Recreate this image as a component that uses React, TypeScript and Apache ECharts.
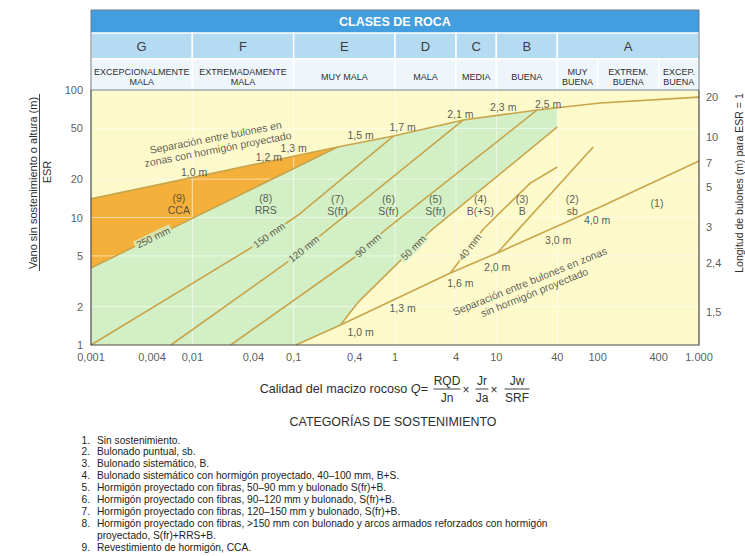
import React, { useEffect, useRef } from "react";
import * as echarts from "echarts";

const FONT = "'Liberation Sans', Arial, Helvetica, sans-serif";
const INK = "#2e2e2e";
const LINE = "#c8a54b";
const PLOT_BG = "#fcf9cb";
const GREEN = "#d3efc5";
const ORANGE = "#f5b03c";

// ---- axes -----------------------------------------------------------------
const qTicks = [0.001, 0.004, 0.01, 0.04, 0.1, 0.4, 1, 4, 10, 40, 100, 400, 1000];
const qTickLabels = ["0,001", "0,004", "0,01", "0,04", "0,1", "0,4", "1", "4", "10", "40", "100", "400", "1.000"];
const spanTicks = [1, 2, 5, 10, 20, 50, 100];
const spanTickLabels = ["1", "2", "5", "10", "20", "50", "100"];
// bolt length (m) for ESR = 1, written at the span/ESR it belongs to
const boltLengthLabels = ["20", "10", "7", "5", "3", "2,4", "1,5"];
const boltLengthSpans = [88, 42.8, 26.8, 17.4, 8.4, 4.4, 1.81];

// ---- rock mass classes (header) ---------------------------------------------
const rockClassLetters = ["G", "F", "E", "D", "C", "B", "A"];
const rockClassBounds = [0.001, 0.01, 0.1, 1, 4, 10, 40, 1000];
const rockQualityNames = [
  "EXCEPCIONALMENTE\nMALA",
  "EXTREMADAMENTE\nMALA",
  "MUY MALA",
  "MALA",
  "MEDIA",
  "BUENA",
  "MUY\nBUENA",
  "EXTREM.\nBUENA",
  "EXCEP.\nBUENA",
];
const rockQualityBounds = [0.001, 0.01, 0.1, 1, 4, 10, 40, 100, 400, 1000];

// ---- boundary lines, points as [Q, span/ESR] -----------------------------------
const boltSpacingShotcrete = [
  [0.001, 14], [0.271, 35.7], [0.97, 43.6], [4.73, 58.2], [25.3, 69.7], [40, 72.6], [106, 79.1], [1000, 88],
];
const line250 = [[0.001, 4.02], [0.271, 35.7]];
const line150 = [[0.001, 1], [0.0377, 5.77], [0.117, 10.8], [0.97, 43.6]];
const line120 = [[0.00614, 1], [0.0873, 4.48], [0.172, 6.91], [4.73, 58.2]];
const line90 = [[0.0239, 1], [0.39, 4.81], [0.843, 8.27], [25.3, 69.7]];
const line50 = [[0.105, 1], [0.29, 1.435], [0.436, 2.18], [2.24, 7.84], [40, 51.3]];
const line40 = [[3.52, 3.67], [7.45, 8.12], [21.6, 18.6], [40, 24.9]];
const lineSpotBolting = [[10.2, 5.27], [90.4, 35.7]];
const boltSpacingNoShotcrete = [[0.29, 1.435], [3.52, 3.67], [10.2, 5.27], [106, 12.1], [1000, 27.7]];

// bolt spacing values written along the two spacing curves
const spacingShotcreteText = ["1,0 m", "1,2 m", "1,3 m", "1,5 m", "1,7 m", "2,1 m", "2,3 m", "2,5 m"];
const spacingShotcreteAt = [
  [0.0104, 22.9], [0.0568, 29.8], [0.1, 35.1], [0.457, 44.6], [1.19, 51.3], [4.42, 64.8], [11.7, 73.6], [32.5, 77.6],
];
const spacingBareText = ["1,0 m", "1,3 m", "1,6 m", "2,0 m", "3,0 m", "4,0 m"];
const spacingBareAt = [[0.457, 1.265], [1.19, 1.95], [4.42, 3.06], [10.2, 4.09], [40.8, 6.66], [98.9, 9.55]];

// shotcrete thickness written on each class boundary
const thicknessText = ["250 mm", "150 mm", "120 mm", "90 mm", "50 mm", "40 mm"];
const thicknessLines = [line250, line150, line120, line90, line50, line40];
const thicknessQ = [0.0041, 0.057, 0.126, 0.54, 1.52, 5.5];
const thicknessAngle = [26, 35, 39, 41, 45, 52];

// support categories
const categoryNumbers = ["(9)", "(8)", "(7)", "(6)", "(5)", "(4)", "(3)", "(2)", "(1)"];
const categoryCodes = ["CCA", "RRS", "S(fr)", "S(fr)", "S(fr)", "B(+S)", "B", "sb", ""];
const categoryAt = [
  [0.00736, 12.8], [0.053, 12.8], [0.271, 12.5], [0.863, 12.5], [2.51, 12.5], [6.95, 12.5], [18, 12.5], [56.1, 12.5], [385, 13],
];

const supportCategories = [
  "Sin sostenimiento.",
  "Bulonado puntual, sb.",
  "Bulonado sistemático, B.",
  "Bulonado sistemático con hormigón proyectado, 40–100 mm, B+S.",
  "Hormigón proyectado con fibras, 50–90 mm y bulonado S(fr)+B.",
  "Hormigón proyectado con fibras, 90–120 mm y bulonado, S(fr)+B.",
  "Hormigón proyectado con fibras, 120–150 mm y bulonado, S(fr)+B.",
  "Hormigón proyectado con fibras, >150 mm con bulonado y arcos armados reforzados con hormigón\nproyectado, S(fr)+RRS+B.",
  "Revestimiento de hormigón, CCA.",
];

// faint guide lines inside the plot
const guideQ = [0.01, 0.1, 1, 4, 10, 40];
const guideSpan = [2, 5, 10, 20, 50];

// ---- derived shapes -----------------------------------------------------------
const ccaZone = [line250[0], boltSpacingShotcrete[0], boltSpacingShotcrete[1]];
const shotcreteZone = [
  [0.001, 1],
  ...line250,
  ...boltSpacingShotcrete.slice(2, 6),
  ...line50.slice().reverse(),
];
const zones = [shotcreteZone, ccaZone];
const zoneColors = [GREEN, ORANGE];

function spanOnLine(line: number[][], q: number): number {
  const lq = Math.log10(q);
  for (let i = 0; i < line.length - 1; i++) {
    const a = Math.log10(line[i][0]);
    const b = Math.log10(line[i + 1][0]);
    if (lq >= a && lq <= b) {
      const t = (lq - a) / (b - a);
      const s0 = Math.log10(line[i][1]);
      const s1 = Math.log10(line[i + 1][1]);
      return Math.pow(10, s0 + t * (s1 - s0));
    }
  }
  return line[line.length - 1][1];
}

// header rows in header-grid units (0 = top)
const ROWS = [[0, 23], [23, 49], [49, 80]];
const ROW_FILL = ["#439ee0", "#b5dbf3", "#eef6fc"];

type Cell = { q0: number; q1: number; row: number; text: string };
const headerCells: Cell[] = [
  { q0: rockClassBounds[0], q1: rockClassBounds[rockClassBounds.length - 1], row: 0, text: "CLASES DE ROCA" },
  ...rockClassLetters.map((t, i) => ({ q0: rockClassBounds[i], q1: rockClassBounds[i + 1], row: 1, text: t })),
  ...rockQualityNames.map((t, i) => ({ q0: rockQualityBounds[i], q1: rockQualityBounds[i + 1], row: 2, text: t })),
];

function curve(data: number[][]) {
  return {
    type: "line",
    xAxisIndex: 0,
    yAxisIndex: 0,
    data,
    symbol: "none",
    showSymbol: false,
    silent: true,
    z: 3,
    lineStyle: { color: LINE, width: 1.6 },
  };
}

function labels(items: { name: string; value: number[]; label?: any }[], base: any, z = 5) {
  return {
    type: "scatter",
    xAxisIndex: 0,
    yAxisIndex: 0,
    symbolSize: 0,
    silent: true,
    clip: false,
    z,
    data: items,
    label: { show: true, formatter: "{b}", fontFamily: FONT, color: INK, ...base },
  };
}

function buildOption(): any {
  const series: any[] = [];

  // coloured support zones
  series.push({
    type: "custom",
    xAxisIndex: 0,
    yAxisIndex: 0,
    silent: true,
    z: 1,
    data: zones.map((z) => z[0]),
    renderItem: (params: any, api: any) => ({
      type: "polygon",
      shape: { points: zones[params.dataIndex].map((p) => api.coord(p)) },
      style: { fill: zoneColors[params.dataIndex] },
    }),
  });

  // faint white guides
  series.push({
    type: "custom",
    xAxisIndex: 0,
    yAxisIndex: 0,
    silent: true,
    z: 2,
    data: [[1, 10]],
    renderItem: (_p: any, api: any) => {
      const children: any[] = [];
      guideQ.forEach((q) => {
        const a = api.coord([q, 1]);
        const b = api.coord([q, 100]);
        children.push({ type: "line", shape: { x1: a[0], y1: a[1], x2: b[0], y2: b[1] }, style: { stroke: "rgba(255,255,255,0.65)", lineWidth: 1 } });
      });
      guideSpan.forEach((s) => {
        const a = api.coord([0.001, s]);
        const b = api.coord([1000, s]);
        children.push({ type: "line", shape: { x1: a[0], y1: a[1], x2: b[0], y2: b[1] }, style: { stroke: "rgba(255,255,255,0.55)", lineWidth: 1 } });
      });
      return { type: "group", children };
    },
  });

  // boundary curves
  [boltSpacingShotcrete, line250, line150, line120, line90, line50, line40, lineSpotBolting, boltSpacingNoShotcrete].forEach((l) =>
    series.push(curve(l))
  );

  // plot frame
  series.push({
    type: "custom",
    xAxisIndex: 0,
    yAxisIndex: 0,
    silent: true,
    z: 4,
    data: [[1, 10]],
    renderItem: (_p: any, api: any) => {
      const bl = api.coord([0.001, 1]);
      const tl = api.coord([0.001, 100]);
      const br = api.coord([1000, 1]);
      const tr = api.coord([1000, 100]);
      return {
        type: "polyline",
        shape: { points: [tl, bl, br, tr] },
        style: { stroke: "#4a4a4a", lineWidth: 1.2, fill: "none" },
      };
    },
  });

  // header (rock classes)
  series.push({
    type: "custom",
    xAxisIndex: 1,
    yAxisIndex: 1,
    silent: true,
    z: 2,
    data: [...headerCells.map((c) => [c.q0, ROWS[c.row][0]]), [0.001, 0]],
    renderItem: (params: any, api: any) => {
      const i = params.dataIndex;
      if (i === headerCells.length) {
        const a = api.coord([0.001, 0]);
        const b = api.coord([1000, 80]);
        return {
          type: "rect",
          shape: { x: a[0], y: a[1], width: b[0] - a[0], height: b[1] - a[1] },
          style: { fill: "none", stroke: "#6f7b85", lineWidth: 1 },
        };
      }
      const c = headerCells[i];
      const a = api.coord([c.q0, ROWS[c.row][0]]);
      const b = api.coord([c.q1, ROWS[c.row][1]]);
      const textStyle: any =
        c.row === 0
          ? { fill: "#ffffff", fontSize: 12.5, fontWeight: "bold" }
          : c.row === 1
          ? { fill: "#3c3c3c", fontSize: 13 }
          : { fill: "#2e2e2e", fontSize: 9, lineHeight: 10 };
      const cx = (a[0] + b[0]) / 2;
      const cy = (a[1] + b[1]) / 2 + (c.row === 2 ? 2 : 0);
      return {
        type: "group",
        children: [
          {
            type: "rect",
            shape: { x: a[0], y: a[1], width: b[0] - a[0], height: b[1] - a[1] },
            style: { fill: ROW_FILL[c.row], stroke: "#ffffff", lineWidth: c.row === 0 ? 0 : 1.5 },
          },
          {
            type: "text",
            style: {
              text: c.text,
              x: cx,
              y: cy,
              align: "center",
              verticalAlign: "middle",
              fontFamily: FONT,
              ...textStyle,
            },
          },
        ],
      };
    },
  });

  // tick labels
  series.push(
    labels(
      qTicks.map((q, i) => ({ name: qTickLabels[i], value: [q, 1] })),
      { position: "bottom", distance: 6, fontSize: 11 }
    )
  );
  series.push(
    labels(
      spanTicks.map((s, i) => ({ name: spanTickLabels[i], value: [0.001, s] })),
      { position: "left", distance: 8, fontSize: 11, align: "right" }
    )
  );
  series.push(
    labels(
      boltLengthSpans.map((s, i) => ({ name: boltLengthLabels[i], value: [1000, s] })),
      { position: "right", distance: 7, fontSize: 11, align: "left" }
    )
  );

  // bolt spacing values
  series.push(
    labels(
      spacingShotcreteAt.map((p, i) => ({ name: spacingShotcreteText[i], value: p })),
      { position: "inside", fontSize: 10.5 }
    )
  );
  series.push(
    labels(
      spacingBareAt.map((p, i) => ({ name: spacingBareText[i], value: p })),
      { position: "inside", fontSize: 10.5 }
    )
  );

  // thickness labels sit on their own boundary line
  series.push(
    labels(
      thicknessText.map((t, i) => ({
        name: t,
        value: [thicknessQ[i], spanOnLine(thicknessLines[i], thicknessQ[i])],
        label: {
          rotate: thicknessAngle[i],
          backgroundColor: i === thicknessText.length - 1 ? PLOT_BG : GREEN,
        },
      })),
      { position: "inside", fontSize: 10, color: "#333", padding: [0, 2] },
      6
    )
  );

  // support category tags
  series.push(
    labels(
      categoryAt.map((p, i) => ({
        name: categoryCodes[i] ? categoryNumbers[i] + "\n" + categoryCodes[i] : categoryNumbers[i],
        value: p,
      })),
      { position: "inside", fontSize: 10.5, lineHeight: 12, color: "#333" }
    )
  );

  // captions along the spacing curves
  series.push(
    labels(
      [
        { name: "Separación entre bulones en\nzonas con hormigón proyectado", value: [0.0174, 38.4], label: { rotate: 11 } },
        { name: "Separación entre bulones en zonas\nsin hormigón proyectado", value: [22.6, 2.85], label: { rotate: 22 } },
      ],
      { position: "inside", fontSize: 10.5, lineHeight: 12, color: "#333" }
    )
  );

  // titles, formula and legend list
  const txt = (x: number, y: number, text: string, extra: any = {}, rotation = 0) => ({
    type: "text",
    x,
    y,
    rotation,
    silent: true,
    style: {
      text,
      fontFamily: FONT,
      fill: INK,
      fontSize: 11,
      align: "center",
      verticalAlign: "middle",
      ...extra,
    },
  });
  const hline = (x1: number, x2: number, y: number) => ({
    type: "line",
    silent: true,
    shape: { x1, y1: y, x2, y2: y },
    style: { stroke: INK, lineWidth: 0.9 },
  });
  const frac = (cx: number, num: string, den: string, w: number) => [
    txt(cx, 381, num, { fontSize: 12 }),
    hline(cx - w / 2, cx + w / 2, 389),
    txt(cx, 397.5, den, { fontSize: 12 }),
  ];

  const elements: any[] = [
    txt(33, 183, "Vano sin sostenimiento o altura (m)", { fontSize: 11 }, Math.PI / 2),
    { type: "line", silent: true, shape: { x1: 39.5, y1: 94, x2: 39.5, y2: 271 }, style: { stroke: INK, lineWidth: 0.9 } },
    txt(46.5, 172, "ESR", { fontSize: 11 }, Math.PI / 2),
    txt(739, 183, "Longitud de bulones (m) para ESR = 1", { fontSize: 10.5 }, Math.PI / 2),
    {
      type: "text",
      x: 428,
      y: 389,
      silent: true,
      style: {
        text: "{n|Calidad del macizo rocoso }{q|Q}{n|=}",
        align: "right",
        verticalAlign: "middle",
        rich: {
          n: { fontFamily: FONT, fontSize: 12.6, fill: INK, color: INK },
          q: { fontFamily: FONT, fontSize: 12.6, fontStyle: "italic", fill: INK, color: INK },
        },
      },
    },
    ...frac(447, "RQD", "Jn", 27),
    txt(466, 390, "×", { fontSize: 12 }),
    ...frac(482, "Jr", "Ja", 13),
    txt(494, 390, "×", { fontSize: 12 }),
    ...frac(517, "Jw", "SRF", 25),
    txt(393, 422, "CATEGORÍAS DE SOSTENIMIENTO", { fontSize: 12.4 }),
  ];

  let y = 440;
  supportCategories.forEach((item, i) => {
    item.split("\n").forEach((lineText, j) => {
      if (j === 0) elements.push(txt(90, y, `${i + 1}.`, { fontSize: 10.2, align: "right", fill: "#222" }));
      elements.push(txt(97, y, lineText, { fontSize: 10.2, align: "left", fill: "#222" }));
      y += 11.9;
    });
  });

  return {
    animation: false,
    backgroundColor: "#ffffff",
    textStyle: { fontFamily: FONT },
    grid: [
      { left: 91, top: 90, width: 608, height: 255, show: true, backgroundColor: PLOT_BG, borderWidth: 0 },
      { left: 91, top: 10, width: 608, height: 80, show: false },
    ],
    xAxis: [
      { type: "log", logBase: 10, min: 0.001, max: 1000, gridIndex: 0, show: false },
      { type: "log", logBase: 10, min: 0.001, max: 1000, gridIndex: 1, show: false },
    ],
    yAxis: [
      { type: "log", logBase: 10, min: 1, max: 100, gridIndex: 0, show: false },
      { type: "value", min: 0, max: 80, inverse: true, gridIndex: 1, show: false },
    ],
    series,
    graphic: { elements },
  };
}

export default function App() {
  const ref = useRef<HTMLDivElement>(null);
  useEffect(() => {
    if (!ref.current) return;
    const chart = echarts.init(ref.current, null, { renderer: "svg" });
    chart.setOption(buildOption());
    return () => chart.dispose();
  }, []);
  return (
    <div
      ref={ref}
      style={{ position: "absolute", left: 0, top: 0, width: 745, height: 556, background: "#fff" }}
    />
  );
}
